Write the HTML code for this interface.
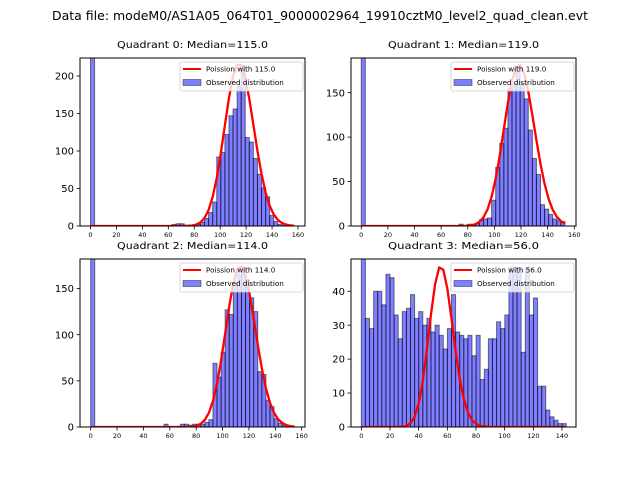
<!DOCTYPE html>
<html><head><meta charset="utf-8"><style>
body{margin:0;background:#fff;}
svg{display:block;font-family:"DejaVu Sans","Liberation Sans",sans-serif;}
</style></head><body>
<svg id="fig" width="640" height="480" xmlns="http://www.w3.org/2000/svg">
<text x="320" y="20" text-anchor="middle" font-size="12" textLength="536" lengthAdjust="spacingAndGlyphs">Data file: modeM0/AS1A05_064T01_9000002964_19910cztM0_level2_quad_clean.evt</text>
</svg>
<script>
const titles=["Quadrant 0: Median=115.0","Quadrant 1: Median=119.0","Quadrant 2: Median=114.0","Quadrant 3: Median=56.0"];
const lambdas=[115,119,114,56];
const peaks=[215,181,174,47];
const spreads=[1.05,1.05,1.05,1.1];
const binWidths=[3.14,3.06,3.09,2.86];
const counts0=[2000,0,0,0,0,0,0,0,0,0,0,0,0,0,0,0,0,0,0,0,2,3,3,1,1,1,2,5,10,18,32,92,98,122,147,156,186,214,118,112,90,69,51,39,14,6,2,1,1,0];
const counts1=[2000,0,0,0,0,0,0,0,0,0,0,0,0,0,0,0,0,0,0,0,0,0,0,0,2,0,2,2,3,7,8,9,29,66,93,110,155,160,178,160,143,108,76,58,24,19,13,8,6,5];
const counts2=[2000,0,0,0,0,0,0,0,0,0,0,0,0,0,0,0,0,0,3,0,0,0,3,3,2,3,3,3,5,8,69,54,81,127,122,154,165,172,160,140,125,60,57,29,22,9,4,2,1,1];
const counts3=[60,32,29,40,40,36,45,44,33,26,34,35,39,32,34,30,32,28,30,27,23,29,39,28,27,26,27,21,27,14,17,26,26,31,29,33,47,47,47,22,47,33,38,12,12,5,3,2,1,1];
const xTicks0=[0,20,40,60,80,100,120,140,160];
const xTicks3=[0,20,40,60,80,100,120,140];
const yTicks0=[0,50,100,150,200];
const yTicks1=[0,50,100,150];
const yTicks3=[0,10,20,30,40];
const allCounts=[counts0,counts1,counts2,counts3];
const allXTicks=[xTicks0,xTicks0,xTicks0,xTicks3];
const allYTicks=[yTicks0,yTicks1,yTicks1,yTicks3];
const boxes=[[80,58,305,226],[351,58,576,226],[80,259,305,427],[351,259,576,427]];
const xlims=[[-8.1,165.4],[-7.7,161.3],[-8.1,162.5],[-7.2,149.8]];
const ylims=[[0,224],[0,189],[0,182],[0,49.5]];
const NS="http://www.w3.org/2000/svg";
const svg=document.getElementById('fig');
function mk(tag,attrs,parent){const e=document.createElementNS(NS,tag);for(const k in attrs)e.setAttribute(k,attrs[k]);(parent||svg).appendChild(e);return e;}
function lgamma(z){
  const g=7,c=[0.99999999999980993,676.5203681218851,-1259.1392167224028,771.32342877765313,-176.61502916214059,12.507343278686905,-0.13857109526572012,9.9843695780195716e-6,1.5056327351493116e-7];
  if(z<0.5)return Math.log(Math.PI/Math.abs(Math.sin(Math.PI*z)))-lgamma(1-z);
  z-=1;let x=c[0];for(let i=1;i<g+2;i++)x+=c[i]/(z+i);const t=z+g+0.5;
  return 0.5*Math.log(2*Math.PI)+(z+0.5)*Math.log(t)-t+Math.log(x);}
for(let q=0;q<4;q++){
  const [L,T,R,B]=boxes[q];const [x0,x1]=xlims[q];const [y0,y1]=ylims[q];
  const sx=v=>L+(v-x0)/(x1-x0)*(R-L);
  const sy=v=>B-(v-y0)/(y1-y0)*(B-T);
  const g=mk('g',{});
  
  
  const cid='clip'+q;
  const cp=mk('clipPath',{id:cid},g);mk('rect',{x:L,y:T,width:R-L,height:B-T},cp);
  const bars=mk('g',{'clip-path':'url(#'+cid+')'},g);
  const w=binWidths[q];const cs=allCounts[q];
  cs.forEach((c,k)=>{if(c<=0)return;
    const r=mk('rect',{x:sx(k*w),y:sy(c),width:sx((k+1)*w)-sx(k*w),height:sy(0)-sy(c),fill:'rgba(0,0,255,0.5)',stroke:'rgba(0,0,0,0.5)','stroke-width':1},bars);
    
    
  });
  const lam=lambdas[q];const f=spreads[q];const pts=[];let mx=0;const vals=[];
  for(let k=0;k<=cs.length;k++){const x=k*w;const u=Math.max(0,lam+(x-lam)/f);const p=Math.exp(u*Math.log(lam)-lam-lgamma(u+1));vals.push([x,p]);if(p>mx)mx=p;}
  const scale=peaks[q]/mx;
  vals.forEach(([x,p])=>pts.push(sx(x).toFixed(2)+','+sy(p*scale).toFixed(2)));
  const pl=mk('polyline',{points:pts.join(' '),fill:'none',stroke:'#ff0000','stroke-width':2.3,'stroke-linejoin':'round'},bars);
  
  
  const fr=mk('rect',{x:L,y:T,width:R-L,height:B-T,fill:'none',stroke:'#000','stroke-width':1},g);
  
  
  allXTicks[q].forEach(t=>{const X=sx(t);mk('line',{x1:X,y1:B,x2:X,y2:B+3.5,stroke:'#000','stroke-width':0.8},g);
    const tx=mk('text',{x:X,y:B+11,'text-anchor':'middle','font-size':6.5},g);tx.textContent=t;
    
    });
  allYTicks[q].forEach(t=>{const Y=sy(t);mk('line',{x1:L,y1:Y,x2:L-3.5,y2:Y,stroke:'#000','stroke-width':0.8},g);
    const tx=mk('text',{x:L-6,y:Y+3.6,'text-anchor':'end','font-size':10},g);tx.textContent=t;
    
    });
  const tt=mk('text',{x:(L+R)/2,y:T-10,'text-anchor':'middle','font-size':9.5,textLength:151,lengthAdjust:'spacingAndGlyphs'},g);tt.textContent=titles[q];
  
  
  const lg=mk('g',{},g);
  
  
  mk('rect',{x:R-125,y:T+4,width:123,height:29,fill:'rgba(255,255,255,0.8)',stroke:'#ccc','stroke-width':0.8,rx:2},lg);
  mk('line',{x1:R-122,y1:T+11,x2:R-104,y2:T+11,stroke:'#ff0000','stroke-width':2},lg);
  mk('rect',{x:R-122,y:T+21.5,width:18,height:6,fill:'rgba(0,0,255,0.5)',stroke:'rgba(0,0,0,0.5)','stroke-width':0.8},lg);
  const l1=mk('text',{x:R-99,y:T+13.5,'font-size':7.2},lg);l1.textContent='Poission with '+lambdas[q].toFixed(1);
  
  
  const l2=mk('text',{x:R-99,y:T+27,'font-size':7.2},lg);l2.textContent='Observed distribution';
  
  
}
</script>
</body></html>
